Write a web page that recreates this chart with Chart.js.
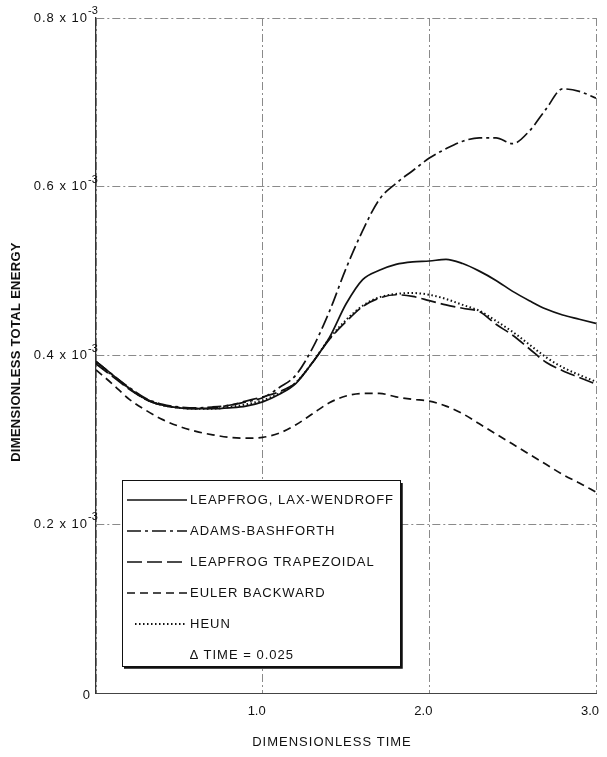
<!DOCTYPE html>
<html>
<head>
<meta charset="utf-8">
<script src="https://cdn.jsdelivr.net/npm/chart.js@4"></script>
<style>
  html, body { margin: 0; padding: 0; background: #fff; }
  #wrap { position: relative; width: 607px; height: 757px; }
</style>
</head>
<body>
<div id="wrap"><canvas id="energy"></canvas></div>
<script>
// Dimensionless time and total energy (energy values are in units of 10^-3)
const time = [0.0, 0.1, 0.2, 0.3, 0.4, 0.5, 0.6, 0.7, 0.8, 0.9,
              1.0, 1.1, 1.2, 1.3, 1.4, 1.5, 1.6, 1.7, 1.8, 1.9,
              2.0, 2.1, 2.2, 2.3, 2.4, 2.5, 2.6, 2.7, 2.8, 2.9, 3.0];

const leapfrogLaxWendroff = [0.393, 0.377, 0.361, 0.348, 0.341, 0.338, 0.337, 0.337, 0.338, 0.340,
                             0.345, 0.354, 0.367, 0.392, 0.421, 0.461, 0.490, 0.501, 0.508, 0.511,
                             0.512, 0.514, 0.509, 0.500, 0.489, 0.476, 0.465, 0.455, 0.448, 0.443, 0.438];

const adamsBashforth = [0.393, 0.377, 0.362, 0.349, 0.342, 0.339, 0.338, 0.339, 0.341, 0.345,
                        0.350, 0.362, 0.377, 0.409, 0.452, 0.503, 0.548, 0.585, 0.604, 0.619,
                        0.634, 0.645, 0.654, 0.658, 0.658, 0.651, 0.666, 0.692, 0.716, 0.713, 0.705];

const leapfrogTrapezoidal = [0.390, 0.375, 0.360, 0.348, 0.341, 0.338, 0.337, 0.338, 0.341, 0.346,
                             0.351, 0.357, 0.368, 0.392, 0.419, 0.440, 0.458, 0.468, 0.472, 0.470,
                             0.465, 0.460, 0.456, 0.452, 0.437, 0.424, 0.408, 0.392, 0.382, 0.374, 0.366];

const eulerBackward = [0.383, 0.366, 0.348, 0.335, 0.324, 0.316, 0.310, 0.306, 0.303, 0.302,
                       0.303, 0.308, 0.318, 0.331, 0.344, 0.352, 0.355, 0.355, 0.351, 0.348,
                       0.346, 0.340, 0.331, 0.319, 0.307, 0.295, 0.283, 0.271, 0.259, 0.249, 0.238];

const heun = [0.391, 0.376, 0.361, 0.348, 0.341, 0.338, 0.337, 0.337, 0.339, 0.342,
              0.347, 0.355, 0.368, 0.392, 0.420, 0.442, 0.459, 0.469, 0.473, 0.474,
              0.472, 0.467, 0.460, 0.453, 0.441, 0.428, 0.413, 0.398, 0.386, 0.377, 0.369];

const seriesNames = ['LEAPFROG, LAX-WENDROFF', 'ADAMS-BASHFORTH', 'LEAPFROG TRAPEZOIDAL',
                     'EULER BACKWARD', 'HEUN'];
const stepNote = '\u2206 TIME = 0.025';
const xTickLabels = ['', '1.0', '2.0', '3.0'];
const yExponent = '-3';
const xTitle = 'DIMENSIONLESS TIME';
const yTitle = 'DIMENSIONLESS TOTAL ENERGY';

const FONT = '"Liberation Sans", Arial, Helvetica, sans-serif';
const INK = '#111';

function points(values) {
  return time.map((t, i) => ({ x: t, y: values[i] }));
}

const styles = [
  { dash: [] },
  { dash: [14, 4, 3, 4] },
  { dash: [15, 5] },
  { dash: [8, 5] },
  { dash: [1.5, 2.5] }
];
const seriesValues = [leapfrogLaxWendroff, adamsBashforth, leapfrogTrapezoidal, eulerBackward, heun];

const datasets = seriesValues.map((vals, i) => ({
  label: seriesNames[i],
  data: points(vals),
  borderColor: INK,
  borderWidth: i === 4 ? 2 : 1.7,
  borderDash: styles[i].dash,
  pointRadius: 0,
  fill: false,
  cubicInterpolationMode: 'monotone'
}));

// y tick labels with a raised exponent, plus both axis titles
const axisText = {
  id: 'axisText',
  afterDraw(chart) {
    const { ctx, chartArea } = chart;
    const ys = chart.scales.y;
    ctx.save();
    ctx.fillStyle = INK;
    ctx.textBaseline = 'middle';
    ys.ticks.forEach(tk => {
      const py = ys.getPixelForValue(tk.value);
      if (Math.abs(tk.value) < 1e-9) {
        ctx.font = '13px ' + FONT;
        ctx.letterSpacing = '0px';
        ctx.textAlign = 'right';
        ctx.fillText('0', chartArea.left - 6, py + 2);
        return;
      }
      const base = tk.value.toFixed(1) + ' x 10';
      ctx.font = '13px ' + FONT;
      ctx.letterSpacing = '1px';
      ctx.textAlign = 'right';
      ctx.fillText(base, chartArea.left - 8, py);
      ctx.font = '11px ' + FONT;
      ctx.letterSpacing = '0px';
      ctx.textAlign = 'left';
      ctx.fillText(yExponent, chartArea.left - 8, py - 7);
    });

    // x title
    ctx.font = '13px ' + FONT;
    ctx.letterSpacing = '1px';
    ctx.textAlign = 'center';
    ctx.fillText(xTitle, 332, 742);

    // y title
    ctx.translate(16, 352);
    ctx.rotate(-Math.PI / 2);
    ctx.font = 'bold 13px ' + FONT;
    ctx.letterSpacing = '0.3px';
    ctx.fillText(yTitle, 0, 0);
    ctx.restore();
  }
};

// boxed key drawn inside the plot area
const keyBox = {
  id: 'keyBox',
  afterDatasetsDraw(chart) {
    const { ctx } = chart;
    const left = 122, top = 480, right = 400, bottom = 666;
    ctx.save();
    ctx.fillStyle = '#fff';
    ctx.fillRect(left, top, right - left, bottom - top);
    ctx.strokeStyle = INK;
    ctx.lineWidth = 1;
    ctx.strokeRect(left + 0.5, top + 0.5, right - left, bottom - top);
    // heavier lower and right edges
    ctx.lineWidth = 2.5;
    ctx.beginPath();
    ctx.moveTo(left + 2, bottom + 1.5);
    ctx.lineTo(right + 1.5, bottom + 1.5);
    ctx.lineTo(right + 1.5, top + 3);
    ctx.stroke();

    const rowY = [500, 531, 562, 593, 624];
    chart.data.datasets.forEach((ds, i) => {
      const y = rowY[i];
      const x0 = i === 4 ? 135 : 127;
      const x1 = i === 4 ? 185 : 187;
      ctx.beginPath();
      ctx.setLineDash(ds.borderDash);
      ctx.lineWidth = ds.borderWidth;
      ctx.strokeStyle = ds.borderColor;
      ctx.moveTo(x0, y);
      ctx.lineTo(x1, y);
      ctx.stroke();
      ctx.setLineDash([]);
      ctx.fillStyle = INK;
      ctx.font = '13px ' + FONT;
      ctx.letterSpacing = '1px';
      ctx.textAlign = 'left';
      ctx.textBaseline = 'middle';
      ctx.fillText(ds.label, 190, y);
    });
    ctx.fillText(stepNote, 190, 655);
    ctx.restore();
  }
};

new Chart(document.getElementById('energy'), {
  type: 'line',
  data: { datasets },
  options: {
    responsive: true,
    maintainAspectRatio: false,
    animation: false,
    layout: { padding: { top: 18, right: 11, left: 0, bottom: 0 } },
    plugins: { legend: { display: false }, tooltip: { enabled: false } },
    scales: {
      x: {
        type: 'linear',
        min: 0,
        max: 3,
        afterFit(scale) {
          scale.height = 64;
          scale.paddingLeft = 0;
          scale.paddingRight = 0;
        },
        ticks: {
          stepSize: 1,
          color: INK,
          font: { family: FONT, size: 13 },
          padding: 11,
          labelOffset: -6,
          maxRotation: 0,
          callback: (v, i) => xTickLabels[i] !== undefined ? xTickLabels[i] : ''
        },
        grid: { color: '#8a8a8a', lineWidth: 1, drawTicks: false },
        border: { display: true, color: '#444', width: 1, dash: [8, 3, 2, 3] }
      },
      y: {
        type: 'linear',
        min: 0,
        max: 0.8,
        afterFit(scale) { scale.width = 96; },
        ticks: { stepSize: 0.2, display: false },
        grid: { color: '#8a8a8a', lineWidth: 1, drawTicks: false },
        border: { display: true, color: '#333', width: 1.3, dash: [8, 3, 2, 3] }
      }
    }
  },
  plugins: [keyBox, axisText]
});
</script>
</body>
</html>
